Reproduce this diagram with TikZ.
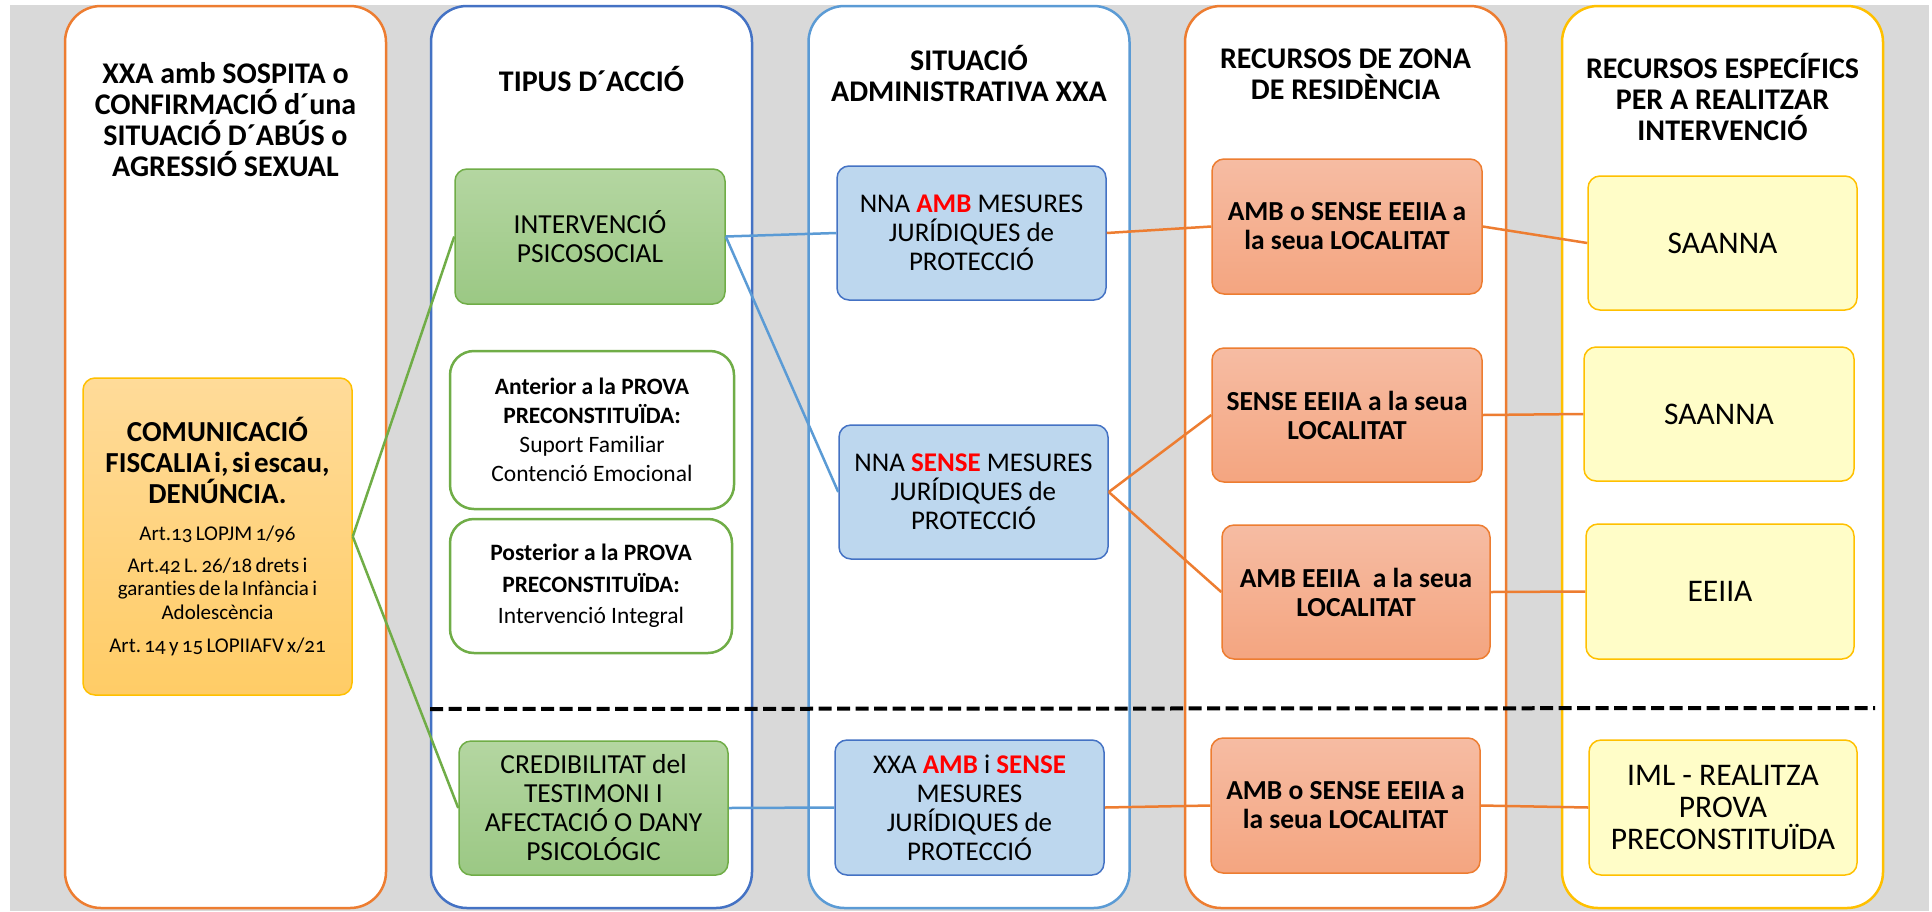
\documentclass[tikz,border=0pt]{standalone}
\usepackage{fontspec}
\setmainfont{Carlito}[Ligatures={NoCommon,NoContextual}]
\definecolor{bgGray}{HTML}{D9D9D9}
\definecolor{cOrange}{HTML}{ED7D31}
\definecolor{cDBlue}{HTML}{4472C4}
\definecolor{cLBlue}{HTML}{5B9BD5}
\definecolor{cGold}{HTML}{FFC000}
\definecolor{cGreen}{HTML}{70AD47}
\definecolor{fBlue}{HTML}{BDD7EE}
\definecolor{fYellow}{HTML}{FFFDC8}
\definecolor{gTop}{HTML}{B4D6A1}
\definecolor{gBot}{HTML}{9BC884}
\definecolor{oTop}{HTML}{F6BCA3}
\definecolor{oBot}{HTML}{F4A580}
\definecolor{yTop}{HTML}{FFDB99}
\definecolor{yBot}{HTML}{FFCC66}
\definecolor{cRed}{HTML}{FF0000}
\tikzset{
  panel/.style={rectangle, line width=2.5pt, fill=white, rounded corners=36pt, minimum width=321, minimum height=902, inner sep=0},
  hdr/.style={align=center, font=\fontsize{30}{31}\selectfont\bfseries, inner sep=0},
  box/.style={rectangle, rounded corners=12pt, line width=1.5pt, inner sep=0, align=center},
  greenbox/.style={box, draw=cGreen, top color=gTop, bottom color=gBot, font=\fontsize{27.5}{29}\selectfont},
  bluebox/.style={box, draw=cDBlue, fill=fBlue, font=\fontsize{27}{29}\selectfont},
  orangebox/.style={box, draw=cOrange, top color=oTop, bottom color=oBot, font=\fontsize{27.5}{29}\selectfont\bfseries},
  yellowbox/.style={box, draw=cGold, fill=fYellow, font=\fontsize{31.5}{32}\selectfont},
  whitebox/.style={box, rounded corners=24pt, draw=cGreen, line width=2.5pt, fill=white},
  link/.style={line width=2.5pt}
}
\newcommand{\rb}[1]{\textcolor{cRed}{\textbf{#1}}}
\newcommand{\smallart}{\fontsize{21}{23.5}\selectfont\addfontfeature{Numbers=OldStyle}}
\begin{document}
\frenchspacing
\begin{tikzpicture}[x=1pt,y=-1pt]
\useasboundingbox (0,0) rectangle (1932,911);
\fill[bgGray] (10,5) rectangle (1929,911);
% panels
\node[panel, draw=cOrange] (p1) at (225.5,457) {};
\node[panel, draw=cDBlue] (p2) at (591.5,457) {};
\node[panel, draw=cLBlue] (p3) at (969,457) {};
\node[panel, draw=cOrange] (p4) at (1345.5,457) {};
\node[panel, draw=cGold] (p5) at (1722.5,457) {};
% headers
\node[hdr] (h1) at (225.5,120) {XXA amb SOSPITA o\\CONFIRMACIÓ d´una\\SITUACIÓ D´ABÚS o\\AGRESSIÓ SEXUAL};
\node[hdr] (h2) at (591.5,79) {TIPUS D´ACCIÓ};
\node[hdr] (h3) at (969,74) {SITUACIÓ\\ADMINISTRATIVA XXA};
\node[hdr] (h4) at (1345.5,74) {RECURSOS DE ZONA\\DE RESIDÈNCIA};
\node[hdr] (h5) at (1722.5,97) {RECURSOS ESPECÍFICS\\PER A REALITZAR\\INTERVENCIÓ};
% dashed separator
\coordinate (dashL) at (430,709);
\coordinate (dashR) at (1875,708);
\draw[line width=4pt, dash pattern=on 13pt off 5.5pt] (dashL) -- (dashR);
% column 1
\node[box, draw=cGold, top color=yTop, bottom color=yBot, minimum width=269, minimum height=317, text width=265] (comm) at (217.5,536.5)
 {{\fontsize{29}{31}\selectfont\bfseries COMUNICACIÓ\\FISCALIA i, si escau,\\DENÚNCIA.\par}
  \vspace{14pt}
  {\smallart Art.13 LOPJM 1/96\par}
  \vspace{8pt}
  {\smallart Art.42 L. 26/18 drets i\\garanties de la Infància i\\Adolescència\par}
  \vspace{9.5pt}
  {\smallart Art. 14 y 15 LOPIIAFV x/21\par}};
% column 2
\node[greenbox, minimum width=270, minimum height=135] (interv) at (590,236.5) {INTERVENCIÓ\\PSICOSOCIAL};
\node[whitebox, minimum width=284, minimum height=158, font=\fontsize{23.5}{29}\selectfont] (anter) at (592,430)
 {\textbf{Anterior a la PROVA}\\\textbf{PRECONSTITUÏDA:}\\Suport Familiar\\Contenció Emocional};
\node[whitebox, minimum width=282, minimum height=134, font=\fontsize{23.5}{31.5}\selectfont] (poster) at (591,586)
 {\textbf{Posterior a la PROVA}\\\textbf{PRECONSTITUÏDA:}\\Intervenció Integral};
\node[greenbox, minimum width=269, minimum height=134] (cred) at (593.5,808) {CREDIBILITAT del\\TESTIMONI I\\AFECTACIÓ O DANY\\PSICOLÓGIC};
% column 3
\node[bluebox, minimum width=269, minimum height=134] (nnaamb) at (971.5,233) {NNA \rb{AMB} MESURES\\JURÍDIQUES de\\PROTECCIÓ};
\node[bluebox, minimum width=269, minimum height=134] (nnasense) at (973.5,492) {NNA \rb{SENSE} MESURES\\JURÍDIQUES de\\PROTECCIÓ};
\node[bluebox, minimum width=269, minimum height=135] (xxa) at (969.5,807.5) {XXA \rb{AMB} i \rb{SENSE}\\MESURES\\JURÍDIQUES de\\PROTECCIÓ};
% column 4
\node[orangebox, minimum width=270, minimum height=135] (r1) at (1347,226.5) {AMB o SENSE EEIIA a\\la seua LOCALITAT};
\node[orangebox, minimum width=270, minimum height=134] (r2) at (1347,415) {SENSE EEIIA a la seua\\LOCALITAT};
\node[orangebox, minimum width=268, minimum height=134] (r3) at (1356,592) {AMB EEIIA\ \ a la seua\\LOCALITAT};
\node[orangebox, minimum width=269, minimum height=135] (r4) at (1345.5,805.5) {AMB o SENSE EEIIA a\\la seua LOCALITAT};
% column 5
\node[yellowbox, minimum width=269, minimum height=134] (s1) at (1722.5,243) {SAANNA};
\node[yellowbox, minimum width=270, minimum height=134] (s2) at (1719,414) {SAANNA};
\node[yellowbox, minimum width=268, minimum height=135] (s3) at (1720,591.5) {EEIIA};
\node[yellowbox, minimum width=268, minimum height=135] (s4) at (1723,807.5) {IML - REALITZA\\PROVA\\PRECONSTITUÏDA};
% connectors
\draw[link, cGreen] (comm.east) -- (interv.west);
\draw[link, cGreen] (comm.east) -- (cred.west);
\draw[link, cLBlue] (interv.east) -- (nnaamb.west);
\draw[link, cLBlue] (interv.east) -- (nnasense.west);
\draw[link, cLBlue] (cred.east) -- (xxa.west);
\draw[link, cOrange] (nnaamb.east) -- (r1.west);
\draw[link, cOrange] (nnasense.east) -- (r2.west);
\draw[link, cOrange] (nnasense.east) -- (r3.west);
\draw[link, cOrange] (xxa.east) -- (r4.west);
\draw[link, cOrange] (r1.east) -- (s1.west);
\draw[link, cOrange] (r2.east) -- (s2.west);
\draw[link, cOrange] (r3.east) -- (s3.west);
\draw[link, cOrange] (r4.east) -- (s4.west);
\end{tikzpicture}
\end{document}
